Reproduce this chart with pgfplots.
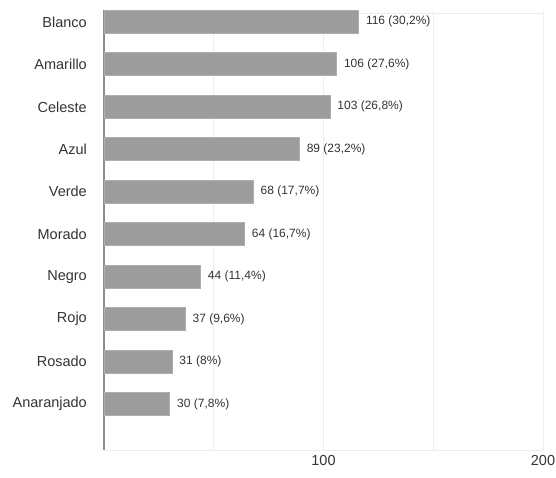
\documentclass[border=0pt]{standalone}
\usepackage{pgfplots}
\pgfplotsset{compat=1.18}
\usepackage{fontspec}
\setmainfont{Liberation Sans}
\definecolor{barfill}{HTML}{9C9C9C}
\definecolor{barline}{HTML}{AEAEAE}
\definecolor{gridgray}{HTML}{EDEDED}
\definecolor{axisgray}{HTML}{8C8C8C}
\definecolor{txt}{HTML}{333333}
\begin{document}
\begin{tikzpicture}
\useasboundingbox (-104bp,-28bp) rectangle (452bp,450bp);
\begin{axis}[
  at={(0,0)}, anchor=south west,
  scale only axis, width=439bp, height=440bp,
  xmin=0, xmax=200, ymin=-1.08, ymax=9.28,
  axis x line=bottom, axis y line=left,
  x axis line style={draw=gridgray, line width=1bp, -},
  y axis line style={draw=axisgray, line width=2bp, -},
  xbar, bar width=23bp,
  xtick={50,100,150,200}, xticklabels={,100,,200},
  ytick={0,...,9},
  yticklabels={Anaranjado,Rosado,Rojo,Negro,Morado,Verde,Azul,Celeste,Amarillo,Blanco},
  major tick length=0pt,
  xmajorgrids, grid style={draw=gridgray, line width=1bp},
  tick label style={font=\fontsize{14.5bp}{16bp}\selectfont, text=txt},
  yticklabel style={inner sep=0pt, xshift=-17bp},
  xticklabel style={inner sep=0pt, yshift=-5bp},
  nodes near coords,
  point meta=explicit symbolic,
  nodes near coords style={font=\fontsize{12bp}{13bp}\selectfont, text=txt, anchor=west, inner sep=0pt, xshift=7bp},
  clip=false,
]
\draw[gridgray, line width=1bp] (axis cs:0,9.2) -- (axis cs:200,9.2);
\addplot[fill=barfill, draw=barline, line width=0.8bp] coordinates {
  (30,0) [30 (7,8\%)]
  (31,1) [31 (8\%)]
  (37,2) [37 (9,6\%)]
  (44,3) [44 (11,4\%)]
  (64,4) [64 (16,7\%)]
  (68,5) [68 (17,7\%)]
  (89,6) [89 (23,2\%)]
  (103,7) [103 (26,8\%)]
  (106,8) [106 (27,6\%)]
  (116,9) [116 (30,2\%)]
};
\end{axis}
\end{tikzpicture}
\end{document}
